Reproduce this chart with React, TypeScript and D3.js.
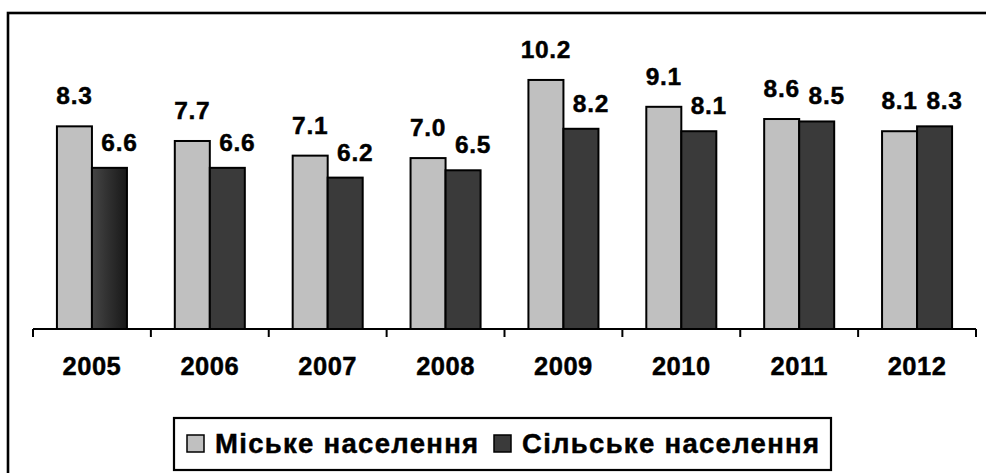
import React from "react";
import * as d3 from "d3";

const years = ["2005", "2006", "2007", "2008", "2009", "2010", "2011", "2012"];
const urban = [8.3, 7.7, 7.1, 7.0, 10.2, 9.1, 8.6, 8.1];
const rural = [6.6, 6.6, 6.2, 6.5, 8.2, 8.1, 8.5, 8.3];
const seriesNames = ["Міське населення", "Сільське населення"];

const W = 986;
const H = 473;
const FONT = "'Liberation Sans', Arial, Helvetica, sans-serif";
const LIGHT = "#c0c0c0";
const DARK = "#3a3a3a";

export default function App() {
  const x = d3.scaleBand<string>().domain(years).range([33, 976]).paddingInner(0.406).paddingOuter(0.203);
  const y = d3.scaleLinear().domain([0, 12]).range([329, 36]);
  const bw = x.bandwidth() / 2;
  const step = x.step();
  const tickXs = d3.range(years.length + 1).map((i) => 33 + i * step);
  const fmt = d3.format(".1f");
  const textStyle = { stroke: "#000", strokeWidth: 0.45 } as const;

  return (
    <svg width={W} height={H} style={{ position: "absolute", left: 0, top: 0, background: "#fff" }} fontFamily={FONT}>
      <defs>
        <linearGradient id="darkGrad" x1="0" x2="1" y1="0" y2="0">
          <stop offset="0" stopColor="#454545" />
          <stop offset="1" stopColor="#181818" />
        </linearGradient>
      </defs>
      {/* outer frame */}
      <rect x={8} y={13} width={1000} height={500} fill="none" stroke="#000" strokeWidth={2.6} />

      {/* bars */}
      {years.map((yr, i) => {
        const x0 = x(yr)!;
        return (
          <g key={yr}>
            <rect x={x0} y={y(urban[i])} width={bw} height={y(0) - y(urban[i])} fill={LIGHT} stroke="#000" strokeWidth={2} />
            <rect x={x0 + bw} y={y(rural[i])} width={bw} height={y(0) - y(rural[i])} fill={i === 0 ? "url(#darkGrad)" : DARK} stroke="#000" strokeWidth={2} />
            <text x={x0 + bw / 2} y={y(urban[i]) - 22} textAnchor="middle" fontSize={24.5} fontWeight="bold" letterSpacing={0.7} fill="#000" {...textStyle}>
              {fmt(urban[i])}
            </text>
            <text x={x0 + bw * 1.5 + 10} y={y(rural[i]) - 17} textAnchor="middle" fontSize={24.5} fontWeight="bold" letterSpacing={0.7} fill="#000" {...textStyle}>
              {fmt(rural[i])}
            </text>
            <text x={x0 + bw} y={375} textAnchor="middle" fontSize={25.5} fontWeight="bold" letterSpacing={0.5} fill="#000" {...textStyle}>
              {yr}
            </text>
          </g>
        );
      })}

      {/* axis */}
      <line x1={33} x2={976} y1={y(0)} y2={y(0)} stroke="#000" strokeWidth={2} />
      {tickXs.map((tx, i) => (
        <line key={i} x1={tx} x2={tx} y1={y(0)} y2={y(0) + 8} stroke="#000" strokeWidth={2} />
      ))}

      {/* legend */}
      <rect x={174} y={418} width={657} height={52} fill="#fff" stroke="#000" strokeWidth={2.2} />
      <rect x={187} y={435} width={17} height={17} fill={LIGHT} stroke="#000" strokeWidth={1.5} />
      <text x={215} y={453} fontSize={27.5} fontWeight="bold" letterSpacing={1.3} fill="#000" {...textStyle}>
        {seriesNames[0]}
      </text>
      <rect x={494} y={435} width={17} height={17} fill={DARK} stroke="#000" strokeWidth={1.5} />
      <text x={522} y={453} fontSize={27.5} fontWeight="bold" letterSpacing={1.3} fill="#000" {...textStyle}>
        {seriesNames[1]}
      </text>
    </svg>
  );
}
